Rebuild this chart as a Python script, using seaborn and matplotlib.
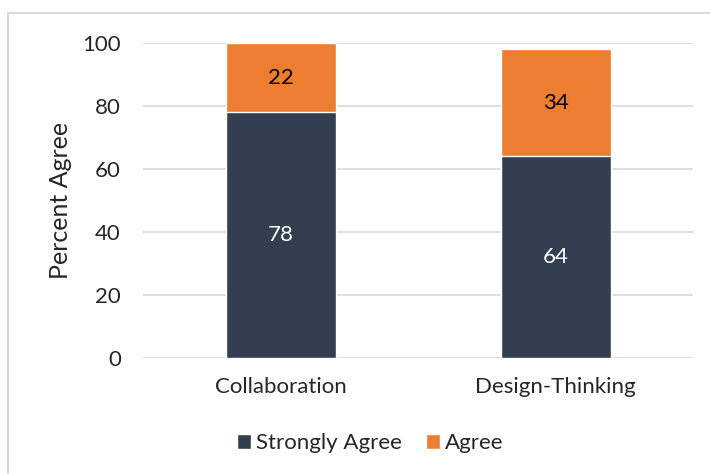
import matplotlib
matplotlib.use("Agg")
import matplotlib.pyplot as plt
from matplotlib.patches import Rectangle, Patch
import seaborn as sns
import pandas as pd

categories = ["Collaboration", "Design-Thinking"]
strongly_agree = [78, 64]
agree = [22, 34]
series_names = ["Strongly Agree", "Agree"]
y_ticks = [0, 20, 40, 60, 80, 100]

navy = "#333F50"
orange = "#ED7D31"
grid_grey = "#D9D9D9"

sns.set_theme(style="white")
plt.rcParams["font.family"] = ["Lato", "DejaVu Sans"]

df = pd.DataFrame({
    "category": categories,
    "strong": strongly_agree,
    "agree": agree,
})
df["total"] = df["strong"] + df["agree"]

fig = plt.figure(figsize=(7.10, 4.74), dpi=100)
ax = fig.add_axes([143 / 710, 1 - 358 / 474, 550 / 710, 315 / 474])

# Stacked bars: full total in orange, strongly-agree portion in navy over it
sns.barplot(data=df, x="category", y="total", color=orange, width=0.4,
            saturation=1, ax=ax, zorder=2)
sns.barplot(data=df, x="category", y="strong", color=navy, width=0.4,
            saturation=1, ax=ax, zorder=3)

for i, row in df.iterrows():
    ax.text(i, row["strong"] / 2, f"{row['strong']}", ha="center", va="center",
            color="white", fontsize=16, zorder=4)
    ax.text(i, row["strong"] + row["agree"] / 2, f"{row['agree']}", ha="center",
            va="center", color="black", fontsize=16, zorder=4)

ax.set_ylim(0, 100)
ax.set_xlim(-0.5, 1.5)
ax.set_yticks(y_ticks)
ax.set_yticklabels([str(t) for t in y_ticks], fontsize=16)
ax.tick_params(axis="x", labelsize=16, pad=14, length=0)
ax.tick_params(axis="y", pad=16, length=0)
ax.set_xlabel("")
ax.set_ylabel("Percent Agree", fontsize=18, labelpad=7)
ax.yaxis.grid(True, color=grid_grey, linewidth=1.2, zorder=0)
ax.set_axisbelow(True)
for s in ax.spines.values():
    s.set_visible(False)

handles = [Patch(facecolor=navy, label=series_names[0]),
           Patch(facecolor=orange, label=series_names[1])]
fig.legend(handles=handles, loc="center", bbox_to_anchor=(370 / 710, 1 - 443 / 474),
           ncol=2, frameon=False, fontsize=16, handlelength=0.65,
           handleheight=0.65, handletextpad=0.2, columnspacing=1.1)

# Light frame around the chart area
fig.patches.append(Rectangle((8 / 710, -0.1), 1.2, 1 - 13 / 474 + 0.1,
                             transform=fig.transFigure, fill=False,
                             edgecolor=grid_grey, linewidth=1.5))

fig.savefig("out.png", dpi=100)
